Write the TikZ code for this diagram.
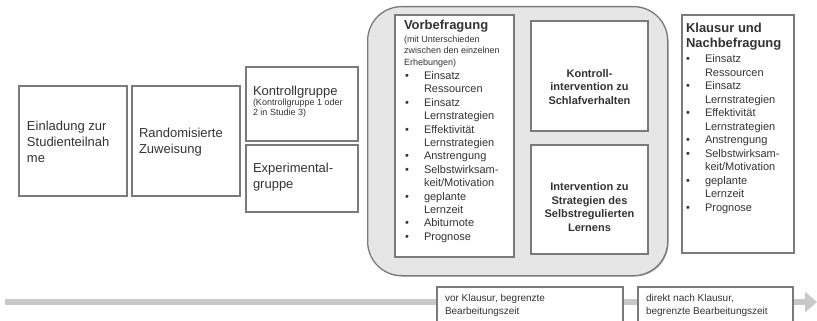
\documentclass[tikz,border=0pt]{standalone}
\usepackage{fontspec}
\setmainfont{Liberation Sans}
\usetikzlibrary{arrows.meta}

\definecolor{ink}{HTML}{333333}
\definecolor{frame}{HTML}{7A7A7A}
\definecolor{panelfill}{HTML}{E6E6E6}
\definecolor{panelshade}{HTML}{A0A0A0}
\definecolor{timeline}{HTML}{C8C8C8}

% font size / leading shorthand
\newcommand\fsz[2]{\fontsize{#1}{#2}\selectfont}
% bullet item and continuation line
\newcommand\itm{\makebox[19pt][l]{\textbullet}}
\newcommand\cnt{\hspace*{19pt}}

\begin{document}
\begin{tikzpicture}[x=1pt,y=-1pt,
  box/.style={draw=frame, line width=1.1pt, fill=white, inner sep=0pt,
              outer sep=0pt, anchor=north west},
  txt/.style={text=ink, inner sep=0pt, outer sep=0pt, align=left},
  ctxt/.style={text=ink, inner sep=0pt, outer sep=0pt, align=center,
               font=\fsz{11}{13.6}\bfseries},
  phase/.style={draw=frame, line width=1.3pt, fill=panelfill,
                rounded corners=34pt, inner sep=0pt, anchor=north west}
]
\useasboundingbox (0,0) rectangle (817,321);

% time line with arrow head
\coordinate (tstart) at (5,302);
\coordinate (tend) at (817,302);
\draw[timeline, line width=6pt, -{Triangle[length=12pt,width=20pt]}]
  (tstart) -- (tend);

% invitation and randomisation
\node[box, minimum width=108pt, minimum height=110pt] (invite) at (19,86) {};
\node[txt, anchor=west, font=\fsz{13}{16}] (invitetxt) at (27,142)
  {Einladung zur\\Studienteilnah\\me};
\node[box, minimum width=108pt, minimum height=110pt] (random) at (132,86) {};
\node[txt, anchor=west, font=\fsz{13}{16}] (randomtxt) at (139,142)
  {Randomisierte\\Zuweisung};

% groups
\node[box, minimum width=112pt, minimum height=74pt] (ctrl) at (246,67) {};
\node[txt, anchor=west, font=\fsz{13}{16}] (ctrltxt) at (253,92) {Kontrollgruppe};
\node[txt, anchor=west, font=\fsz{9}{9.8}] (ctrlsub) at (253,108)
  {(Kontrollgruppe 1 oder\\2 in Studie 3)};
\node[box, minimum width=112pt, minimum height=67pt] (expe) at (246,145) {};
\node[txt, anchor=west, font=\fsz{13}{16.5}] (expetxt) at (253,177)
  {Experimental-\\gruppe};

% study phase panel with shade
\fill[panelshade, rounded corners=34pt] (368.5,7.5) rectangle (668.5,276.5);
\node[phase, minimum width=300pt, minimum height=269pt] (panel) at (367,6) {};

% pre-survey
\node[box, minimum width=119pt, minimum height=242pt] (pre) at (395,15) {};
\node[txt, anchor=north west, font=\fsz{13}{15}\bfseries] (pretitle) at (404,20.5)
  {Vorbefragung};
\node[txt, anchor=north west, font=\fsz{9}{11.6}] (presub) at (404,35.5)
  {(mit Unterschieden\\zwischen den einzelnen\\Erhebungen)};
\node[txt, anchor=north west, font=\fsz{11}{13.4}] (prelist) at (405,71.6)
  {\itm Einsatz\\\cnt Ressourcen\\\itm Einsatz\\\cnt Lernstrategien\\
   \itm Effektivität\\\cnt Lernstrategien\\\itm Anstrengung\\
   \itm Selbstwirksam-\\\cnt keit/Motivation\\\itm geplante\\\cnt Lernzeit\\
   \itm Abiturnote\\\itm Prognose};

% interventions
\node[box, minimum width=117pt, minimum height=110pt] (sleep) at (531,21) {};
\node[ctxt] (sleeptxt) at (589.5,87) {Kontroll-\\intervention zu\\Schlafverhalten};
\node[box, minimum width=117pt, minimum height=109pt] (srl) at (531,145) {};
\node[ctxt] (srltxt) at (589.5,207)
  {Intervention zu\\Strategien des\\Selbstregulierten\\Lernens};

% exam and post-survey
\node[box, minimum width=112pt, minimum height=238pt] (post) at (682,15) {};
\node[txt, anchor=north west, font=\fsz{13}{15.5}\bfseries] (posttitle) at (686,23)
  {Klausur und\\Nachbefragung};
\node[txt, anchor=north west, font=\fsz{11}{13.5}] (postlist) at (686,54.6)
  {\itm Einsatz\\\cnt Ressourcen\\\itm Einsatz\\\cnt Lernstrategien\\
   \itm Effektivität\\\cnt Lernstrategien\\\itm Anstrengung\\
   \itm Selbstwirksam-\\\cnt keit/Motivation\\\itm geplante\\\cnt Lernzeit\\
   \itm Prognose};

% time frames on the time line
\node[box, minimum width=186pt, minimum height=50pt] (before) at (437,287) {};
\node[txt, anchor=west, font=\fsz{10}{13.6}] (beforetxt) at (445,305.5)
  {vor Klausur, begrenzte\\Bearbeitungszeit};
\node[box, minimum width=155pt, minimum height=50pt] (after) at (638,287) {};
\node[txt, anchor=west, font=\fsz{10}{13.6}] (aftertxt) at (646,305.5)
  {direkt nach Klausur,\\begrenzte Bearbeitungszeit};
\end{tikzpicture}
\end{document}
